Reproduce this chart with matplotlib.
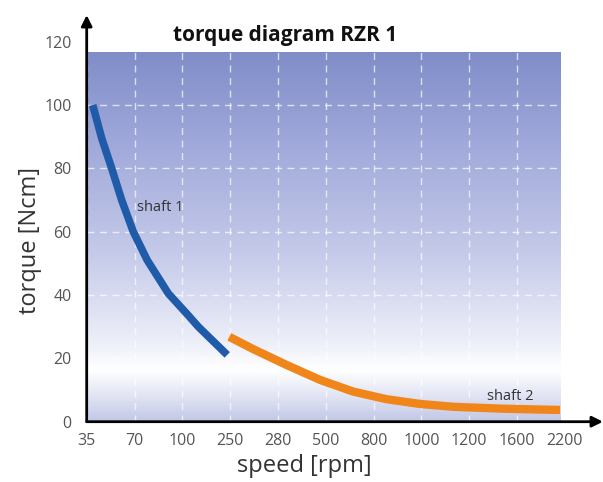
"""
Torque diagram RZR 1: torque over speed for both shafts
"""
import numpy as np
import matplotlib
matplotlib.use('Agg')
from matplotlib import pyplot as plt
from matplotlib.colors import LinearSegmentedColormap

# Speed tick values (the axis is not linear, ticks are equally spaced)
speed_ticks = [35, 70, 100, 250, 280, 500, 800, 1000, 1200, 1600, 2200]
torque_ticks = [0, 20, 40, 60, 80, 100, 120]

# Shaft 1 curve (speed rpm, torque Ncm)
shaft1_speed = [39.4, 46, 53.3, 60.6, 69.1, 78, 91.2, 115, 150.2, 195, 241]
shaft1_torque = [100, 89.5, 80, 70, 60, 51, 40.5, 34, 30, 25.6, 21.1]

# Shaft 2 curve
shaft2_speed = [247.5, 264.6, 320.5, 473.8, 673, 855, 994.6, 1134, 1486, 2141]
shaft2_torque = [26.8, 22.9, 17.9, 13.2, 9.5, 7.1, 5.6, 4.7, 4.1, 3.7]


def fwd(x):
    return np.interp(x, speed_ticks, np.arange(len(speed_ticks)))


def inv(i):
    return np.interp(i, np.arange(len(speed_ticks)), speed_ticks)


def main():
    plt.rcParams['font.family'] = ['Open Sans', 'DejaVu Sans']
    fig = plt.figure(figsize=(6.03, 4.82), dpi=100)
    ax = fig.add_axes([86.7 / 603, 60.3 / 482, 478 / 603, 380 / 482])
    ax.set_xscale('function', functions=(fwd, inv))
    ax.set_xlim(35, 2200)
    ax.set_ylim(0, 120)

    # Gradient background
    cmap = LinearSegmentedColormap.from_list('bg', [
        (0.0, '#c2c7e7'), (0.07, '#e2e5f4'), (0.14, '#ffffff'),
        (0.22, '#eceef8'), (0.45, '#c6cbea'), (0.75, '#a0a9da'),
        (1.0, '#808dc8')])
    grad = np.linspace(1, 0, 256).reshape(-1, 1)
    ax.imshow(grad, cmap=cmap, aspect='auto', extent=[0, 0.99, 0, 0.973],
              transform=ax.transAxes, zorder=0, interpolation='bilinear')

    # Grid
    ax.set_xticks(speed_ticks)
    ax.set_yticks(torque_ticks)
    ax.set_xticklabels([str(s) for s in speed_ticks])
    ax.set_yticklabels([str(t) for t in torque_ticks])
    ax.grid(True, color='white', linestyle=(0, (5, 4)), linewidth=1.0, alpha=0.7, zorder=1)
    ax.set_axisbelow(False)

    ax.plot(shaft1_speed, shaft1_torque, color='#1f5ba8', linewidth=5.5,
            solid_capstyle='butt', solid_joinstyle='round', zorder=3)
    ax.plot(shaft2_speed, shaft2_torque, color='#f0861a', linewidth=6,
            solid_capstyle='butt', solid_joinstyle='round', zorder=3)

    ax.text(71.5, 67.7, 'shaft 1', fontsize=10.5, color='#333333',
            va='center', zorder=4)
    ax.text(1348, 7.9, 'shaft 2', fontsize=10.5, color='#333333',
            va='center', zorder=4)

    for s in ax.spines.values():
        s.set_visible(False)
    ax.tick_params(length=0, labelsize=11.5, colors='#555555')
    ax.tick_params(axis='x', pad=8)
    ax.tick_params(axis='y', pad=11)

    # Axis arrows
    ax.annotate('', xy=(1.08, 0), xytext=(0, 0), xycoords='axes fraction',
                arrowprops=dict(arrowstyle='-|>', color='black', lw=2,
                                mutation_scale=16, shrinkA=0, shrinkB=0),
                annotation_clip=False)
    ax.annotate('', xy=(0, 1.07), xytext=(0, 0), xycoords='axes fraction',
                arrowprops=dict(arrowstyle='-|>', color='black', lw=2,
                                mutation_scale=16, shrinkA=0, shrinkB=0),
                annotation_clip=False)

    fig.text(285 / 603, 1 - 35 / 482, 'torque diagram RZR 1', fontsize=15,
             fontweight='bold', ha='center', va='center', color='#111111')
    fig.text(304 / 603, 1 - 466 / 482, 'speed [rpm]', fontsize=17,
             ha='center', va='center', color='#333333')
    fig.text(30 / 603, 1 - 240 / 482, 'torque [Ncm]', fontsize=17, rotation=90,
             ha='center', va='center', color='#333333')

    fig.savefig('out.png', dpi=100)


if __name__ == '__main__':
    main()
